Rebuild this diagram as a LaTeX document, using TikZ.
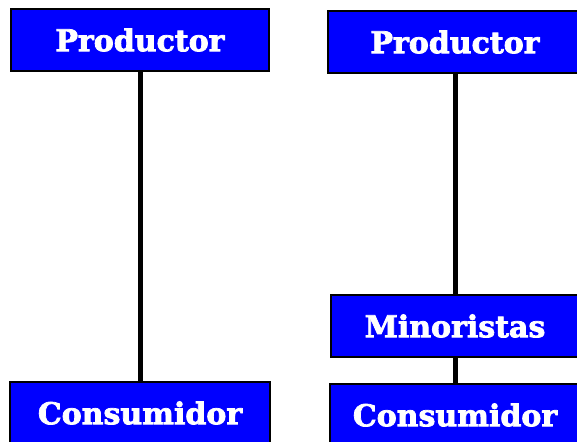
\documentclass[tikz,border=0pt]{standalone}
\usepackage{fontspec}
\newfontfamily\boxfont[FakeBold=2.5]{DejaVu Serif Bold}
\tikzset{caja/.style={draw=black,line width=1.2pt,fill=blue,text=white,
  font=\boxfont\fontsize{30}{36}\selectfont,
  minimum height=62pt,inner sep=0pt},
  enlace/.style={line width=5pt,black}}
\begin{document}
\begin{tikzpicture}[x=1pt,y=-1pt]
\useasboundingbox (0,0) rectangle (577,441);
\clip (0,0) rectangle (577,441);
% canal directo
\node[caja,minimum width=258pt] (prodA) at (140,40) {Productor};
\node[caja,minimum width=260pt] (consA) at (140,413) {Consumidor};
\draw[enlace] (prodA.south) -- (consA.north);
% canal con minoristas
\node[caja,minimum width=254pt] (prodB) at (455,42) {Productor};
\node[caja,minimum width=248pt] (mino) at (455,326) {Minoristas};
\node[caja,minimum width=250pt] (consB) at (455,415) {Consumidor};
\draw[enlace] (prodB.south) -- (mino.north);
\draw[enlace] (mino.south) -- (consB.north);
\end{tikzpicture}
\end{document}
